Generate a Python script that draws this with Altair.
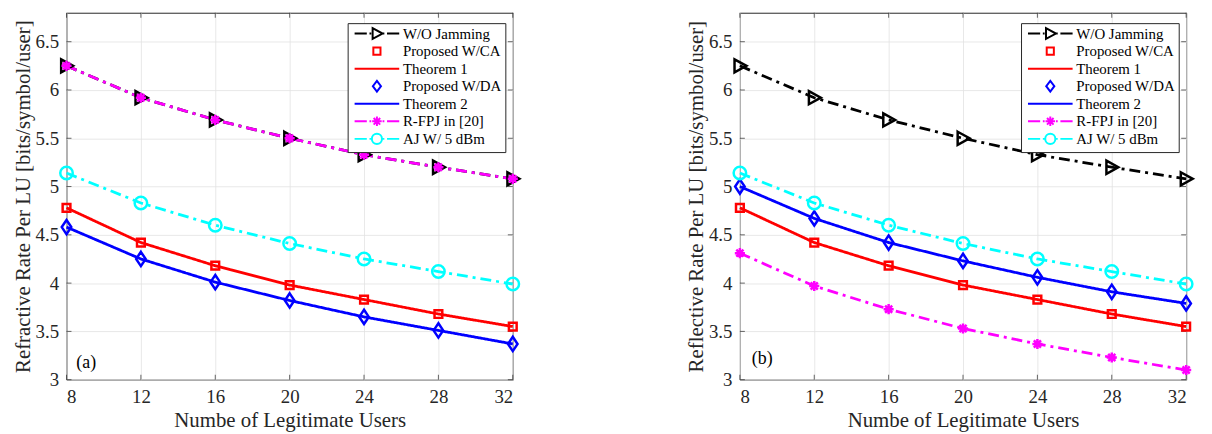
import altair as alt
import pandas as pd

# ---------------- data ----------------
users = [8, 12, 16, 20, 24, 28, 32]
y_ticks = [3, 3.5, 4, 4.5, 5, 5.5, 6, 6.5]

wo_jamming = [6.25, 5.92, 5.69, 5.50, 5.33, 5.20, 5.08]
theorem1 = [4.78, 4.42, 4.18, 3.98, 3.83, 3.68, 3.55]
aj_5dbm = [5.14, 4.83, 4.60, 4.41, 4.25, 4.12, 3.99]

theorem2_a = [4.58, 4.25, 4.01, 3.82, 3.65, 3.51, 3.37]
rfpj_a = [6.25, 5.92, 5.69, 5.50, 5.33, 5.20, 5.08]

theorem2_b = [5.00, 4.67, 4.42, 4.23, 4.06, 3.91, 3.79]
rfpj_b = [4.31, 3.97, 3.73, 3.53, 3.37, 3.23, 3.10]

series_names = ["W/O Jamming", "Proposed W/CA", "Theorem 1", "Proposed W/DA",
                "Theorem 2", "R-FPJ in [20]", "AJ W/ 5 dBm"]
series_colors = ["#000000", "#ff0000", "#ff0000", "#0000ff", "#0000ff", "#ff00ff", "#00ffff"]
dash_styles = [[11, 5, 3, 5], [1, 0], [1, 0], [1, 0], [1, 0], [11, 5, 3, 5], [11, 5, 3, 5]]

# plot marker shapes (unit path, scaled by sqrt(size)/2)
tri = "M-0.9,-1.1L1.1,0L-0.9,1.1Z"
sq = "M-0.65,-0.65L0.65,-0.65L0.65,0.65L-0.65,0.65Z"
dia = "M0,-1.2L0.8,0L0,1.2L-0.8,0Z"
star = "M-0.85,0L0.85,0M0,-0.85L0,0.85M-0.6,-0.6L0.6,0.6M-0.6,0.6L0.6,-0.6"
circ = "M1.05,0A1.05,1.05 0 1,1 -1.05,0A1.05,1.05 0 1,1 1.05,0Z"
none_shape = "M0,0"
marker_shapes = [tri, sq, none_shape, dia, none_shape, star, circ]

# legend symbols: line sample + marker (unit path, scaled by sqrt(size)/2)
ext = "M0,-0.9M0,0.9"
dashdot = "M-3.75,0L-1.7,0M-1.25,0L-0.95,0M0.95,0L1.25,0M1.7,0L3.75,0"
solid = "M-3.75,0L3.75,0"
lg_tri = "M-0.72,-0.9L0.95,0L-0.72,0.9Z"
lg_sq = "M-0.6,-0.6L0.6,-0.6L0.6,0.6L-0.6,0.6Z"
lg_dia = "M0,-0.9L0.68,0L0,0.9L-0.68,0Z"
lg_star = "M-0.8,0L0.8,0M0,-0.8L0,0.8M-0.55,-0.55L0.55,0.55M-0.55,0.55L0.55,-0.55"
lg_circ = "M0.85,0A0.85,0.85 0 1,1 -0.85,0A0.85,0.85 0 1,1 0.85,0Z"
legend_shapes = [ext + dashdot + lg_tri, ext + lg_sq, ext + solid, ext + lg_dia,
                 ext + solid, ext + dashdot + lg_star, ext + dashdot + lg_circ]

panel_titles = ["Refractive Rate Per LU [bits/symbol/user]",
                "Reflective Rate Per LU [bits/symbol/user]"]
panel_tags = ["(a)", "(b)"]
tag_x = [8.53, 8.64]
tag_y = [3.17, 3.21]

FONT = "Liberation Serif"
AX = "#262626"
X_MIN, X_MAX = 8, 32
Y_MIN, Y_MAX = 3, 6.8


def build_frames(t2, rf):
    line_series = {"W/O Jamming": wo_jamming, "Theorem 1": theorem1,
                   "Theorem 2": t2, "R-FPJ in [20]": rf, "AJ W/ 5 dBm": aj_5dbm}
    mark_series = {"W/O Jamming": wo_jamming, "Proposed W/CA": theorem1,
                   "Proposed W/DA": t2, "R-FPJ in [20]": rf, "AJ W/ 5 dBm": aj_5dbm}
    lrows, mrows = [], []
    for name in series_names:
        k = series_names.index(name)
        if name in line_series:
            for u, v in zip(users, line_series[name]):
                lrows.append({"users": u, "rate": v, "series": name, "order": k})
        if name in mark_series:
            for u, v in zip(users, mark_series[name]):
                mrows.append({"users": u, "rate": v, "series": name, "order": k})
    return pd.DataFrame(lrows), pd.DataFrame(mrows)


def panel(idx, t2, rf):
    ldf, mdf = build_frames(t2, rf)
    x = alt.X("users:Q", scale=alt.Scale(domain=[X_MIN, X_MAX], nice=False, zero=False),
              axis=alt.Axis(values=users, title="Numbe of Legitimate Users", format="~g",
                            labelFont=FONT, titleFont=FONT))
    y = alt.Y("rate:Q", scale=alt.Scale(domain=[Y_MIN, Y_MAX], nice=False, zero=False),
              axis=alt.Axis(values=y_ticks, title=panel_titles[idx], format="~g",
                            labelFont=FONT, titleFont=FONT))
    stroke_scale = alt.Scale(domain=series_names, range=series_colors)

    # inward tick marks on all four sides (MATLAB box style)
    xt = pd.DataFrame({"users": users * 2,
                       "rate": [Y_MIN] * len(users) + [Y_MAX] * len(users),
                       "side": ["b"] * len(users) + ["t"] * len(users)})
    yt = pd.DataFrame({"users": [X_MIN] * len(y_ticks) + [X_MAX] * len(y_ticks),
                       "rate": y_ticks * 2,
                       "side": ["l"] * len(y_ticks) + ["r"] * len(y_ticks)})
    xtick_b = alt.Chart(xt).transform_filter("datum.side == 'b'").mark_tick(
        orient="vertical", size=5, thickness=1, color=AX, yOffset=-2.5).encode(x=x, y=y)
    xtick_t = alt.Chart(xt).transform_filter("datum.side == 't'").mark_tick(
        orient="vertical", size=5, thickness=1, color=AX, yOffset=2.5).encode(x=x, y=y)
    ytick_l = alt.Chart(yt).transform_filter("datum.side == 'l'").mark_tick(
        orient="horizontal", size=5, thickness=1, color=AX, xOffset=2.5).encode(x=x, y=y)
    ytick_r = alt.Chart(yt).transform_filter("datum.side == 'r'").mark_tick(
        orient="horizontal", size=5, thickness=1, color=AX, xOffset=-2.5).encode(x=x, y=y)

    lines = alt.Chart(ldf).mark_line(strokeWidth=2.8).encode(
        x=x, y=y,
        stroke=alt.Stroke("series:N", scale=stroke_scale, legend=None),
        strokeDash=alt.StrokeDash("series:N", scale=alt.Scale(domain=series_names, range=dash_styles),
                                  legend=None),
        order=alt.Order("order:Q"),
    )
    points = alt.Chart(mdf).mark_point(filled=False, size=144, strokeWidth=2.5, opacity=1).encode(
        x=x, y=y,
        stroke=alt.Stroke("series:N", scale=stroke_scale, legend=None),
        shape=alt.Shape("series:N", scale=alt.Scale(domain=series_names, range=marker_shapes),
                        legend=None),
    )
    # legend-only layer (draws nothing; supplies the legend entries)
    leg_df = pd.DataFrame({"users": [8], "rate": [3.0], "entry": [series_names[0]]})
    leg = alt.Legend(orient="none", legendX=283.5, legendY=10.5, title=None,
                     padding=3, rowPadding=-1.3, symbolSize=144, symbolOffset=19,
                     labelOffset=18.7, labelFont=FONT, labelFontSize=15,
                     labelColor="#000000", labelLimit=400, symbolLimit=0,
                     symbolStrokeWidth=2, symbolFillColor="transparent",
                     fillColor="white", strokeColor=AX, cornerRadius=0)
    legend_layer = alt.Chart(leg_df).transform_filter("datum.rate > 100").mark_point(
        filled=False, size=144, strokeWidth=2, opacity=1).encode(
        x=x, y=y,
        color=alt.Color("entry:N", scale=alt.Scale(domain=series_names, range=series_colors),
                        legend=leg),
        shape=alt.Shape("entry:N", scale=alt.Scale(domain=series_names, range=legend_shapes),
                        legend=leg),
    )
    tag_df = pd.DataFrame({"users": [tag_x[idx]], "rate": [tag_y[idx]], "tag": [panel_tags[idx]]})
    tag = alt.Chart(tag_df).mark_text(align="left", baseline="middle", font=FONT,
                                      fontSize=18, color="#000000").encode(
        x=x, y=y, text="tag:N")
    return alt.layer(xtick_b, xtick_t, ytick_l, ytick_r, lines, points, tag, legend_layer).resolve_scale(
        shape="independent", color="independent"
    ).resolve_legend(shape="independent", color="independent").properties(width=450, height=370)


pa = panel(0, theorem2_a, rfpj_a)
pb = panel(1, theorem2_b, rfpj_b)

chart = alt.hconcat(pa, pb, spacing=160).resolve_scale(
    color="independent", stroke="independent", shape="independent", strokeDash="independent"
).resolve_legend(
    color="independent", stroke="independent", shape="independent", strokeDash="independent"
).properties(
    padding={"left": 3, "top": 2, "right": 5, "bottom": 0}
).configure_view(
    stroke=AX, strokeWidth=1
).configure_axis(
    labelFont=FONT, titleFont=FONT, labelFontSize=19, titleFontSize=21,
    labelColor=AX, titleColor=AX, titleFontWeight="normal",
    gridColor="#e2e2e2", gridWidth=0.8, domain=False, ticks=False
).configure_axisY(titlePadding=2, labelPadding=8).configure_axisX(titlePadding=3, labelPadding=8)

chart.save("out.html", embed_options={"renderer": "svg", "actions": False})
